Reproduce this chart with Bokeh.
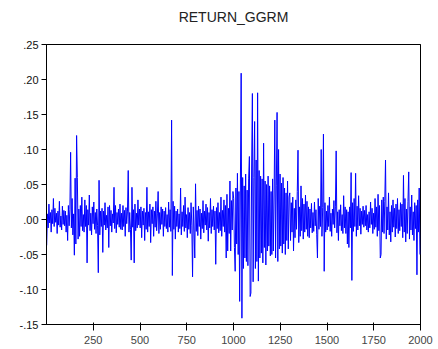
from bokeh.plotting import figure
from bokeh.models import FixedTicker, Range1d, LinearAxis
from bokeh.embed import file_html
from bokeh.resources import INLINE

title_text = "RETURN_GGRM"
x_start = 1
x_step = 4
# returns in thousandths
returns_x1000 = [
    -37, 8, -12, 22, -5, 10, -18, 14, -6, 30, -10, 16, -4, 9, -20, 12, -8, 26, -11, 5, -15, 19, -7, 13, -9,
    12, -18, 6, -30, 20, -9, 14, 96, -12, 30, -22, 8, -51, 59, -35, 120, 60, -28, 15, -24, 20, -10, 32, -16, 7,
    -18, 28, -10, 20, -62, 14, -8, 35, -16, 9, -22, 18, -6, 25, -14, 10, -20, 15, -9, -76, 56, -22, 12, -10, 16,
    -47, 12, -8, 24, -15, 6, -12, 18, -40, 20, -9, 13, -18, 8, -5, 46, -13, 20, -19, 10, -7, 15, -11, 22, -14,
    9, -15, 20, -10, 13, -24, 17, -6, 12, 70, -18, 10, -14, -58, 46, -11, 14, -62, 22, -16, 9, -12, 28, -8, 15,
    -12, 18, -26, 12, -8, 16, -30, 10, -14, 46, -18, 11, -10, 22, -33, 14, -6, 18, -24, 12, -11, 26, -16, 8, 40,
    -20, 10, -14, 18, -7, 15, -24, 12, -10, 17, -13, 7, -18, 25, -11, 14, -17, 142, -80, 26, -14, 19, -28, 12, -10,
    15, -18, 8, -13, 45, -22, 11, -10, 20, -17, 32, -12, 7, -26, 17, -14, 10, -20, 24, -8, -82, 18, -15, -55, 51,
    -17, 13, -23, 19, -10, 15, -28, 9, -13, 27, -19, 12, -8, 22, -15, 17, -31, 10, -12, 30, -20, 14, -10, 19, -15,
    12, -64, 17, -13, 24, -19, 10, -16, 32, -24, 13, -10, 28, -18, 20, -55, 36, -45, 16, -20, 55, -45, 27, -15, 40,
    30, -40, -74, 45, -35, 66, -50, 40, -117, 55, 209, -141, 60, -70, 48, -55, 65, -60, 42, -66, 58, 90, -110, -105, 75,
    180, -89, 60, 140, -70, 85, -60, 181, -88, 70, -55, 62, -48, 58, -62, 109, -40, 55, -65, 50, -45, 62, -38, 48, -52,
    40, -50, 58, -45, 35, 142, -55, 48, 153, -60, 100, -42, 65, -38, 52, -48, 60, -35, 45, -50, 38, -30, 55, -42, 32,
    38, -30, 24, -18, 32, -45, 16, -26, 28, -14, 40, 99, -33, 18, -24, 48, -16, 30, -28, 22, -18, 35, -14, 26, -24,
    18, -26, 15, -12, 23, -19, 10, -17, 25, -9, 14, -21, -55, 30, -14, 19, -10, 100, -24, 17, 122, -74, 24, -18, 12,
    -15, 20, -10, 32, -17, 9, -24, 15, -7, 27, -12, 18, 98, -19, 11, -30, 14, -9, 21, -16, 7, -20, 34, -12, 18,
    -20, 14, -35, 11, -40, 18, -12, 67, -87, 24, -17, 30, -10, 66, -24, 19, -15, 34, -9, 16, -21, 12, -7, 19, -11,
    13, -9, 20, -15, 7, -18, 11, -12, 25, -7, 16, -20, 9, -14, 30, -11, 18, -24, 36, -16, 20, -55, -50, 28, -18,
    32, -20, 26, 85, -28, 18, -15, 38, -22, 11, -32, 20, -18, 28, -11, 16, -25, 22, -13, 30, -20, 14, -16, 24, -10,
    22, -26, 63, -18, 30, -32, 15, -20, 26, 68, -28, 18, -15, 35, -22, 11, -30, 24, -13, 20, -79, 28, -18, 45, -50,
]
x_ticks = [250, 500, 750, 1000, 1250, 1500, 1750, 2000]
y_ticks = [-0.15, -0.10, -0.05, 0.00, 0.05, 0.10, 0.15, 0.20, 0.25]
y_labels = ["-.15", "-.10", "-.05", ".00", ".05", ".10", ".15", ".20", ".25"]

xs = [x_start + x_step * i for i in range(len(returns_x1000))]
ys = [v / 1000.0 for v in returns_x1000]

FONT = "Liberation Sans"

p = figure(width=438, height=349, output_backend="svg", toolbar_location=None,
           x_range=Range1d(0, 2000), y_range=Range1d(-0.15, 0.25))
p.frame_width = 374
p.frame_height = 280
p.min_border_left = 46
p.min_border_right = 18
p.min_border_top = 44
p.min_border_bottom = 25

p.line(xs, ys, line_color="#0000FF", line_width=1)

# title drawn as the label of a bare axis above the frame
title_axis = LinearAxis(ticker=FixedTicker(ticks=[]), axis_label=title_text)
title_axis.axis_line_color = None
title_axis.major_tick_line_color = None
title_axis.minor_tick_line_color = None
title_axis.major_tick_out = 0
title_axis.major_tick_in = 0
title_axis.axis_label_standoff = 20
title_axis.axis_label_text_font = FONT
title_axis.axis_label_text_font_size = "14px"
title_axis.axis_label_text_font_style = "normal"
title_axis.axis_label_text_color = "#222222"
p.add_layout(title_axis, "above")

p.grid.visible = False
p.outline_line_color = "black"
p.outline_line_width = 1
p.outline_line_alpha = 1

for ax in (p.xaxis[0], p.yaxis[0]):
    ax.axis_line_color = "black"
    ax.major_tick_line_color = "black"
    ax.major_tick_in = 0
    ax.major_tick_out = 5
    ax.minor_tick_line_color = None
    ax.major_label_text_font = FONT
    ax.major_label_text_font_size = "11px"
    ax.major_label_text_color = "#111111"
    ax.major_label_standoff = 3

p.below[0].ticker = FixedTicker(ticks=x_ticks)
p.yaxis[0].ticker = FixedTicker(ticks=y_ticks)
p.yaxis[0].major_label_overrides = {t: l for t, l in zip(y_ticks, y_labels)}
p.below[0].major_label_overrides = {t: str(t) for t in x_ticks}

open("out.html", "w").write(file_html(p, INLINE))
